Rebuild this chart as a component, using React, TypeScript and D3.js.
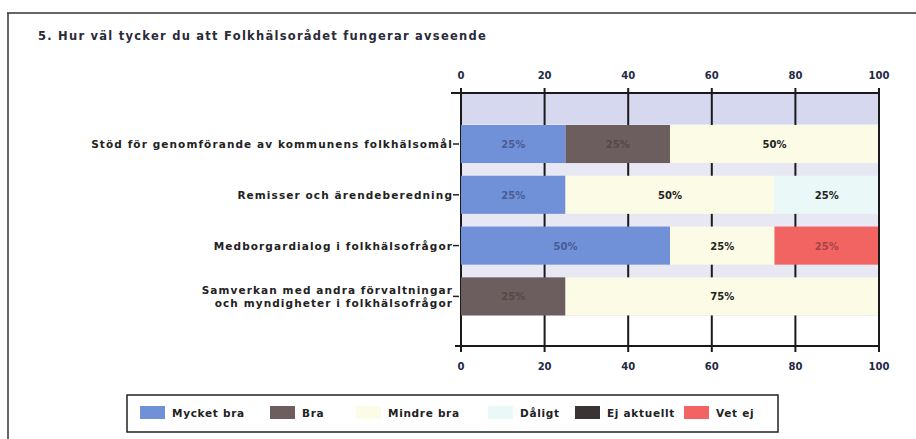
import React, { useEffect, useRef } from 'react';
import * as d3 from 'd3';

const title = '5. Hur väl tycker du att Folkhälsorådet fungerar avseende';

const categories = [
  'Stöd för genomförande av kommunens folkhälsomål',
  'Remisser och ärendeberedning',
  'Medborgardialog i folkhälsofrågor',
  'Samverkan med andra förvaltningar\noch myndigheter i folkhälsofrågor',
];

const seriesNames = ['Mycket bra', 'Bra', 'Mindre bra', 'Dåligt', 'Ej aktuellt', 'Vet ej'];
const mycketBra = [25, 25, 50, 0];
const bra = [25, 0, 0, 25];
const mindreBra = [50, 50, 25, 75];
const daligt = [0, 25, 0, 0];
const ejAktuellt = [0, 0, 0, 0];
const vetEj = [0, 0, 25, 0];
const xTicks = [0, 20, 40, 60, 80, 100];

const colors = ['#7090d8', '#6c5e5e', '#fbfbe6', '#eaf8f8', '#3a3434', '#f26462'];
const textColors = ['#4a5c94', '#574848', '#222', '#222', '#222', '#a54444'];

const Chart: React.FC = () => {
  const svgRef = useRef<SVGSVGElement | null>(null);

  useEffect(() => {
    if (!svgRef.current) return;
    const svg = d3.select(svgRef.current);
    svg.selectAll('*').remove();

    const font = '"DejaVu Sans", Verdana, sans-serif';
    const x = d3.scaleLinear().domain([0, 100]).range([461, 879]);
    const y = d3
      .scaleBand<number>()
      .domain(d3.range(categories.length))
      .range([118.6, 321.8])
      .paddingInner(0.25)
      .paddingOuter(0.125);

    // frame + title
    svg.append('line').attr('x1', 7).attr('x2', 916).attr('y1', 13).attr('y2', 13)
      .attr('stroke', '#333').attr('stroke-width', 1.5);
    svg.append('line').attr('x1', 8).attr('x2', 8).attr('y1', 13).attr('y2', 439)
      .attr('stroke', '#333').attr('stroke-width', 1.5);
    svg.append('text').attr('x', 38).attr('y', 40).text(title)
      .attr('font-family', font).attr('font-weight', 'bold').attr('font-size', 11.5)
      .attr('letter-spacing', 1.25)
      .attr('fill', '#2a2a3a');

    // plot background
    svg.append('rect').attr('x', x(0)).attr('y', 94).attr('width', x(100) - x(0))
      .attr('height', 222).attr('fill', '#e8e8f5');
    svg.append('rect').attr('x', x(0)).attr('y', 94).attr('width', x(100) - x(0))
      .attr('height', 30).attr('fill', '#d6d8f0');

    // grid lines
    svg.append('g').selectAll('line').data(xTicks).enter().append('line')
      .attr('x1', (d) => x(d)).attr('x2', (d) => x(d))
      .attr('y1', 88).attr('y2', 352)
      .attr('stroke', '#1a1a1a').attr('stroke-width', 2);

    // bars
    const rows = categories.map((c, i) => ({
      i,
      'Mycket bra': mycketBra[i],
      Bra: bra[i],
      'Mindre bra': mindreBra[i],
      Dåligt: daligt[i],
      'Ej aktuellt': ejAktuellt[i],
      'Vet ej': vetEj[i],
    }));
    const stack = d3.stack<any>().keys(seriesNames)(rows);

    stack.forEach((layer, k) => {
      const g = svg.append('g');
      layer.forEach((seg: any, i: number) => {
        const v = seg[1] - seg[0];
        if (v <= 0) return;
        g.append('rect')
          .attr('x', x(seg[0]))
          .attr('y', y(i)!)
          .attr('width', x(seg[1]) - x(seg[0]))
          .attr('height', y.bandwidth())
          .attr('fill', colors[k]);
        g.append('text')
          .attr('x', (x(seg[0]) + x(seg[1])) / 2)
          .attr('y', y(i)! + y.bandwidth() / 2 + 4)
          .attr('text-anchor', 'middle')
          .attr('font-family', font).attr('font-weight', 'bold').attr('font-size', 10)
          .attr('fill', textColors[k])
          .text(`${v}%`);
      });
    });

    // right border
    svg.append('line').attr('x1', x(100)).attr('x2', x(100)).attr('y1', 93).attr('y2', 352)
      .attr('stroke', '#1a1a1a').attr('stroke-width', 2);

    // top and bottom axes
    svg.append('line').attr('x1', 451).attr('x2', x(100)).attr('y1', 93).attr('y2', 93)
      .attr('stroke', '#1a1a1a').attr('stroke-width', 2);
    svg.append('line').attr('x1', 455).attr('x2', x(100)).attr('y1', 346).attr('y2', 346)
      .attr('stroke', '#1a1a1a').attr('stroke-width', 2);

    const tickText = (yy: number) =>
      svg.append('g').selectAll('text').data(xTicks).enter().append('text')
        .attr('x', (d) => x(d)).attr('y', yy).attr('text-anchor', 'middle')
        .attr('font-family', font).attr('font-weight', 'bold').attr('font-size', 10)
        .attr('fill', '#1e2a44').text((d) => d);
    tickText(79);
    tickText(370);

    // category labels
    categories.forEach((c, i) => {
      const lines = c.split('\n');
      const cy = y(i)! + y.bandwidth() / 2;
      const t = svg.append('text')
        .attr('text-anchor', 'end')
        .attr('font-family', font).attr('font-weight', 'bold').attr('font-size', 10.5)
        .attr('letter-spacing', 1.1)
        .attr('fill', '#222');
      lines.forEach((ln, j) => {
        t.append('tspan').attr('x', 453)
          .attr('y', cy + 4 + (j - (lines.length - 1) / 2) * 13)
          .text(ln);
      });
      svg.append('line').attr('x1', 453).attr('x2', 459).attr('y1', cy).attr('y2', cy)
        .attr('stroke', '#222').attr('stroke-width', 1.5);
    });

    // legend
    svg.append('rect').attr('x', 127).attr('y', 395).attr('width', 651).attr('height', 37)
      .attr('fill', '#fff').attr('stroke', '#222').attr('stroke-width', 1.5);
    const legendX = [140, 270, 356, 488, 575, 684];
    seriesNames.forEach((name, k) => {
      svg.append('rect').attr('x', legendX[k]).attr('y', 406).attr('width', 25)
        .attr('height', 13).attr('fill', colors[k]);
      svg.append('text').attr('x', legendX[k] + 32).attr('y', 417)
        .attr('font-family', font).attr('font-weight', 'bold').attr('font-size', 10.5)
        .attr('letter-spacing', 0.7)
        .attr('fill', '#222').text(name);
    });
  }, []);

  return (
    <svg
      ref={svgRef}
      width={916}
      height={439}
      style={{ position: 'absolute', left: 0, top: 0, background: '#fff' }}
    />
  );
};

export default function App() {
  return <Chart />;
}
